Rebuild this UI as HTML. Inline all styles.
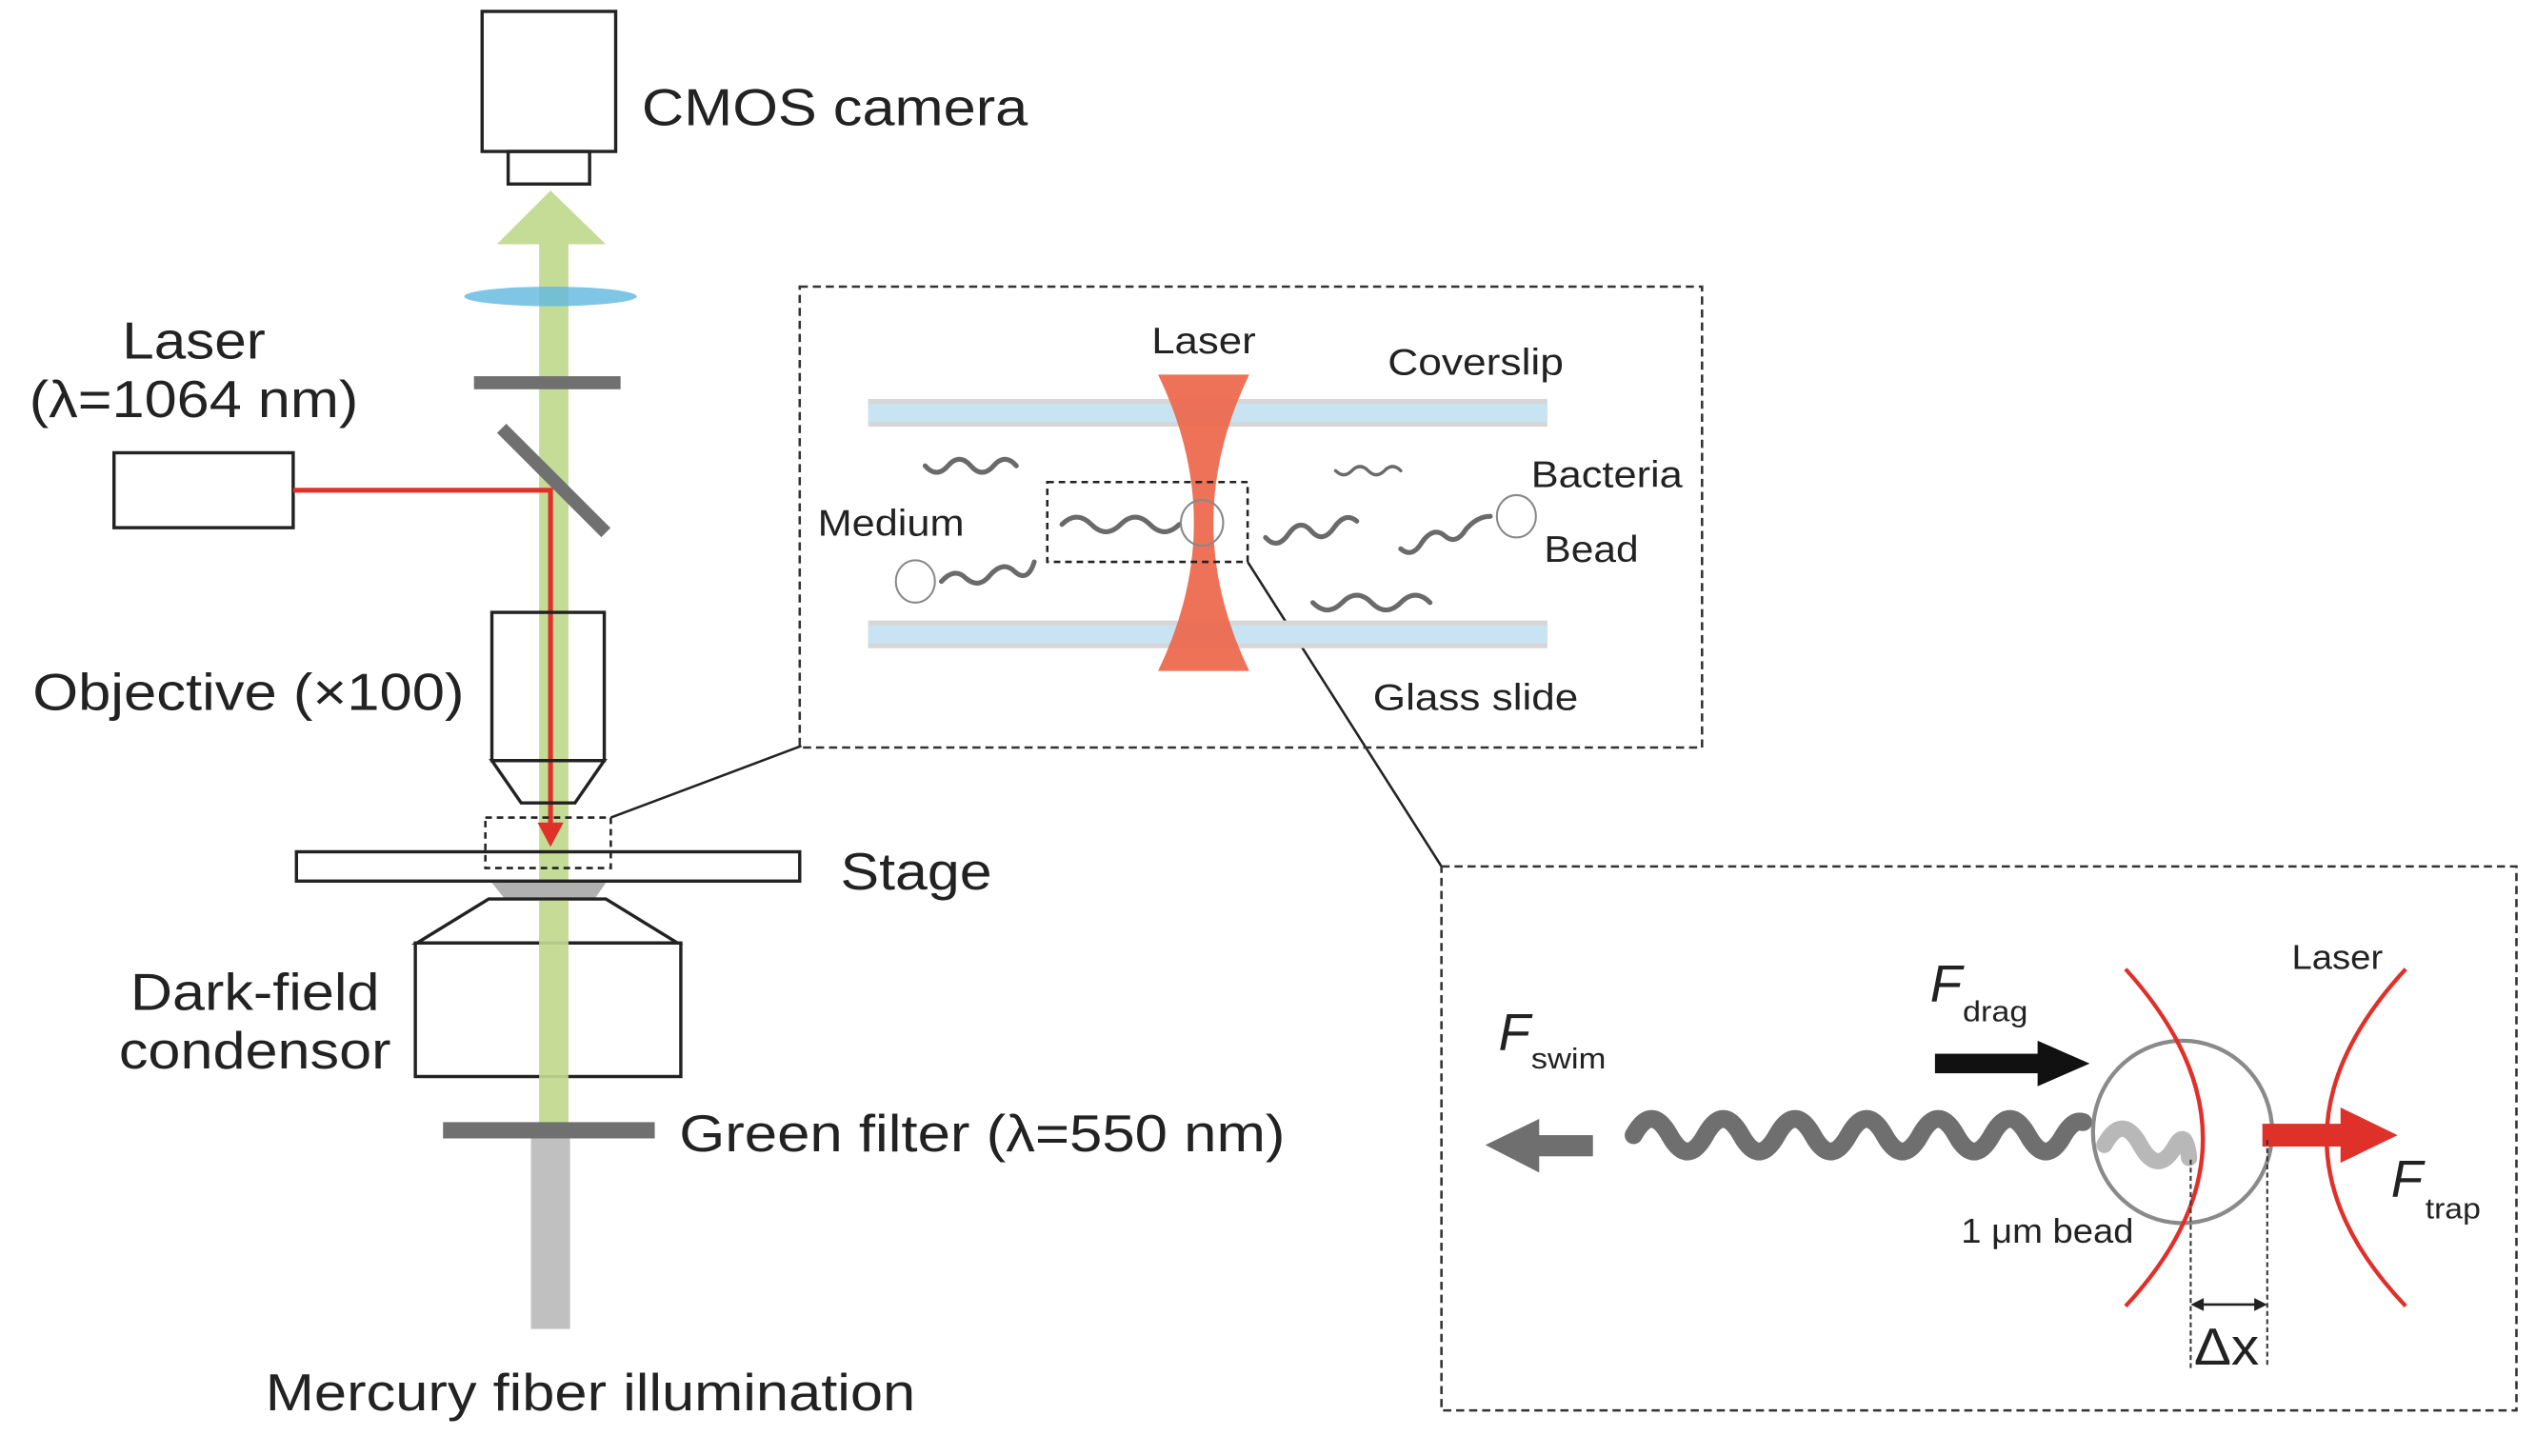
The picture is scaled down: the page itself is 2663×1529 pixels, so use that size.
<!DOCTYPE html>
<html><head><meta charset="utf-8"><style>html,body{margin:0;padding:0;background:#fff}svg{display:block}</style></head>
<body>
<svg width="2663" height="1529" viewBox="0 0 1557 894" preserveAspectRatio="none" xmlns="http://www.w3.org/2000/svg" font-family="Liberation Sans, sans-serif">
<rect width="1557" height="894" fill="#fff"/>
<rect x="326" y="698" width="24" height="118" fill="#c0c0c0"/>
<rect x="331" y="148" width="18" height="545" fill="#c5dc96"/>
<polygon points="338,117 372,150 305,150" fill="#c5dc96"/>
<rect x="296" y="7" width="82" height="86" fill="none" stroke="#222" stroke-width="2"/>
<rect x="312" y="93" width="50" height="20" fill="none" stroke="#222" stroke-width="2"/>
<g font-size="32" fill="#222" lengthAdjust="spacingAndGlyphs">
<text x="394" y="77" textLength="237" lengthAdjust="spacingAndGlyphs">CMOS camera</text>
<text x="75" y="220" textLength="88" lengthAdjust="spacingAndGlyphs">Laser</text>
<text x="18" y="256" textLength="202" lengthAdjust="spacingAndGlyphs">(λ=1064 nm)</text>
<text x="20" y="436" textLength="265" lengthAdjust="spacingAndGlyphs">Objective (×100)</text>
<text x="516" y="546" textLength="93" lengthAdjust="spacingAndGlyphs">Stage</text>
<text x="80" y="620" textLength="153" lengthAdjust="spacingAndGlyphs">Dark-field</text>
<text x="73" y="656" textLength="167" lengthAdjust="spacingAndGlyphs">condensor</text>
<text x="417" y="707" textLength="372" lengthAdjust="spacingAndGlyphs">Green filter (λ=550 nm)</text>
<text x="163" y="866" textLength="399" lengthAdjust="spacingAndGlyphs">Mercury fiber illumination</text>
</g>
<ellipse cx="338" cy="182" rx="53" ry="6" fill="#5fb8e0" opacity="0.8"/>
<rect x="291" y="231" width="90" height="8" fill="#707070"/>
<line x1="308" y1="263" x2="372" y2="327" stroke="#707070" stroke-width="8"/>
<rect x="70" y="278" width="110" height="46" fill="none" stroke="#222" stroke-width="2"/>
<polyline points="180,301 338,301 338,508" fill="none" stroke="#e0302a" stroke-width="3"/>
<polygon points="330,505 346,505 338,520" fill="#e0302a"/>
<rect x="302" y="376" width="69" height="91" fill="none" stroke="#222" stroke-width="2"/>
<polygon points="302,467 371,467 353,493 320,493" fill="none" stroke="#222" stroke-width="2"/>
<rect x="182" y="523" width="309" height="18" fill="none" stroke="#222" stroke-width="2"/>
<rect x="298" y="502" width="77" height="31" fill="none" stroke="#222" stroke-width="1.5" stroke-dasharray="4,3"/>
<polygon points="302,542 372,542 365,552 310,552" fill="#b0b0b0"/>
<polygon points="300,552 372,552 416,579 256,579" fill="none" stroke="#222" stroke-width="2"/>
<rect x="255" y="579" width="163" height="82" fill="none" stroke="#222" stroke-width="2"/>
<rect x="331" y="553" width="18" height="136" fill="#c5dc96" opacity="0.9"/>
<rect x="272" y="689" width="130" height="10" fill="#707070"/>
<line x1="375" y1="502" x2="492" y2="458" stroke="#222" stroke-width="1.5"/>
<line x1="766" y1="345" x2="885" y2="532" stroke="#222" stroke-width="1.5"/>
<rect x="491" y="176" width="554" height="283" fill="none" stroke="#333" stroke-width="1.5" stroke-dasharray="5,3"/>
<rect x="533" y="245" width="417" height="17" fill="#d6d6d6"/>
<rect x="533" y="248" width="417" height="11" fill="#c8e4f3"/>
<rect x="533" y="381" width="417" height="17" fill="#d6d6d6"/>
<rect x="533" y="384" width="417" height="11" fill="#c8e4f3"/>
<path d="M711,230 L767,230 Q723,321 767,412 L711,412 Q755,321 711,230Z" fill="#ec6a4f" opacity="0.95"/>
<g font-size="23" fill="#222">
<text x="707" y="217" textLength="64" lengthAdjust="spacingAndGlyphs">Laser</text>
<text x="852" y="230" textLength="108" lengthAdjust="spacingAndGlyphs">Coverslip</text>
<text x="940" y="299" textLength="93" lengthAdjust="spacingAndGlyphs">Bacteria</text>
<text x="948" y="345" textLength="58" lengthAdjust="spacingAndGlyphs">Bead</text>
<text x="502" y="329" textLength="90" lengthAdjust="spacingAndGlyphs">Medium</text>
<text x="843" y="436" textLength="126" lengthAdjust="spacingAndGlyphs">Glass slide</text>
</g>
<g fill="none" stroke="#6a6a6a" stroke-width="3" stroke-linecap="round">
<path d="M568,286 q7,8 14,0 q7,-8 14,0 q7,8 14,0 q7,-8 14,0"/>
<path d="M820,289 q5,5 10,0 q5,-5 10,0 q5,5 10,0 q5,-5 10,0" stroke-width="2"/>
<path d="M652,322 q9,-9 18,0 q9,9 18,0 q9,-9 18,0 q9,9 18,0"/>
<path d="M777,330 q7,8 14,-2 q7,-10 14,-2 q7,8 14,-2 q7,-10 14,-4"/>
<path d="M860,337 q7,6 13,-4 q7,-10 14,-4 q7,6 13,-4 q7,-8 15,-8"/>
<path d="M578,357 q8,-9 15,-2 q8,7 15,-2 q8,-9 15,-2 q8,7 12,-6"/>
<path d="M806,370 q9,9 18,0 q9,-9 18,0 q9,9 18,0 q9,-9 18,0"/>
</g>
<g fill="none" stroke="#888" stroke-width="1.2">
<ellipse cx="738" cy="321" rx="13" ry="14"/>
<ellipse cx="931" cy="317" rx="12" ry="13"/>
<ellipse cx="562" cy="357" rx="12" ry="13"/>
</g>
<rect x="643" y="296" width="123" height="49" fill="none" stroke="#222" stroke-width="1.5" stroke-dasharray="4,3"/>
<rect x="885" y="532" width="660" height="334" fill="none" stroke="#333" stroke-width="1.5" stroke-dasharray="5,3"/>
<path d="M1003,697 q11,-20 22,0 q11,20 22,0 q11,-20 22,0 q11,20 22,0 q11,-20 22,0 q11,20 22,0 q11,-20 22,0 q11,20 22,0 q11,-20 22,0 q11,20 22,0 q11,-20 22,0 q11,20 22,0 q6,-10 12,-8" fill="none" stroke="#6f6f6f" stroke-width="11" stroke-linecap="round"/>
<path d="M1292,703 q11,-20 22,0 q11,20 22,0 q6,-10 8,8" fill="none" stroke="#b8b8b8" stroke-width="10" stroke-linecap="round"/>
<ellipse cx="1340" cy="695" rx="55" ry="56" fill="none" stroke="#8a8a8a" stroke-width="2.5"/>
<path d="M1305,595 Q1400,700 1305,802" fill="none" stroke="#e0302a" stroke-width="2.5"/>
<path d="M1477,595 Q1380,700 1477,802" fill="none" stroke="#e0302a" stroke-width="2.5"/>
<rect x="1389" y="690" width="50" height="14" fill="#e0302a"/>
<polygon points="1437,680 1472,697 1437,714" fill="#e0302a"/>
<rect x="1188" y="647" width="65" height="12" fill="#111"/>
<polygon points="1251,639 1283,653 1251,667" fill="#111"/>
<rect x="943" y="697" width="35" height="13" fill="#6f6f6f"/>
<polygon points="945,687 912,703 945,720" fill="#6f6f6f"/>
<line x1="1345" y1="712" x2="1345" y2="840" stroke="#333" stroke-width="1.2" stroke-dasharray="3,2"/>
<line x1="1392" y1="700" x2="1392" y2="840" stroke="#333" stroke-width="1.2" stroke-dasharray="3,2"/>
<line x1="1349" y1="801" x2="1388" y2="801" stroke="#222" stroke-width="1.5"/>
<polygon points="1345,801 1353,797 1353,805" fill="#222"/>
<polygon points="1392,801 1384,797 1384,805" fill="#222"/>
<text x="920" y="645" font-size="32" font-style="italic" fill="#222">F</text>
<text x="940" y="656" font-size="18" fill="#222" textLength="46" lengthAdjust="spacingAndGlyphs">swim</text>
<text x="1185" y="615" font-size="32" font-style="italic" fill="#222">F</text>
<text x="1205" y="627" font-size="18" fill="#222" textLength="40" lengthAdjust="spacingAndGlyphs">drag</text>
<text x="1407" y="595" font-size="21" fill="#222" textLength="56" lengthAdjust="spacingAndGlyphs">Laser</text>
<text x="1468" y="735" font-size="32" font-style="italic" fill="#222">F</text>
<text x="1489" y="748" font-size="18" fill="#222" textLength="34" lengthAdjust="spacingAndGlyphs">trap</text>
<text x="1204" y="763" font-size="21" fill="#222" textLength="106" lengthAdjust="spacingAndGlyphs">1 μm bead</text>
<text x="1347" y="838" font-size="32" fill="#222" textLength="40" lengthAdjust="spacingAndGlyphs">Δx</text>
</svg>
</body></html>
